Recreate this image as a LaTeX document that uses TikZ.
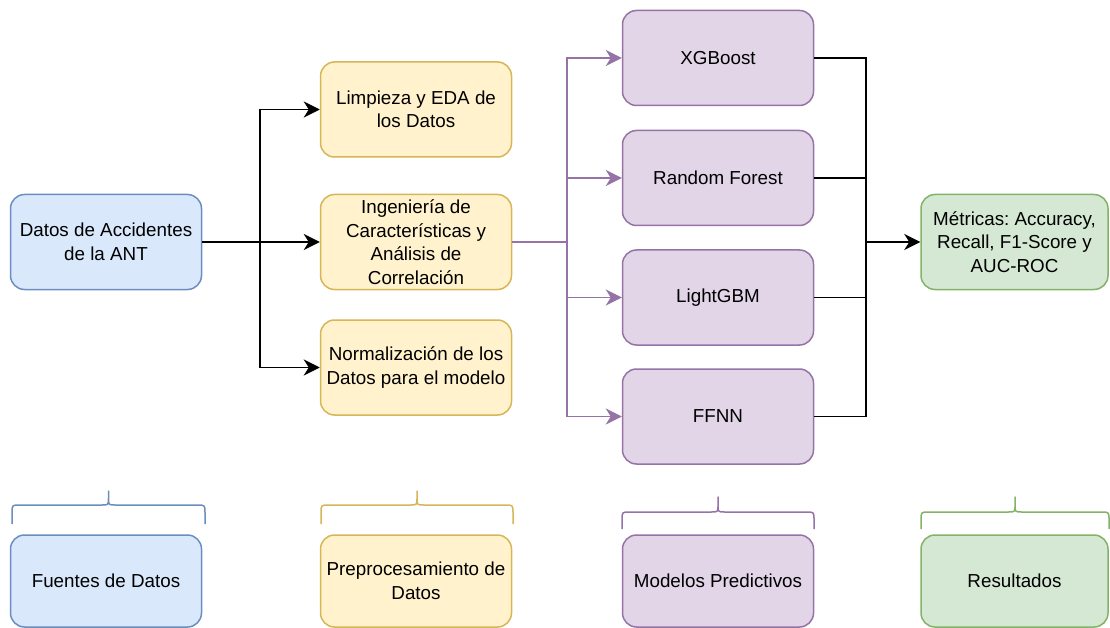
\documentclass[tikz,border=0pt]{standalone}
\usepackage{fontspec}
\setmainfont{Liberation Sans}
\usetikzlibrary{arrows.meta}
\definecolor{bfill}{HTML}{DAE8FC}\definecolor{bline}{HTML}{6C8EBF}
\definecolor{yfill}{HTML}{FFF2CC}\definecolor{yline}{HTML}{D6B656}
\definecolor{pfill}{HTML}{E1D5E7}\definecolor{pline}{HTML}{9673A6}
\definecolor{gfill}{HTML}{D5E8D4}\definecolor{gline}{HTML}{82B366}
\tikzset{
  box/.style={rounded corners=14pt, draw, line width=1.5pt, minimum width=191pt, minimum height=95pt,
    align=center, inner sep=0pt, font=\fontsize{18.8}{23.5}\selectfont\frenchspacing},
  bbox/.style={box, fill=bfill, draw=bline},
  ybox/.style={box, fill=yfill, draw=yline},
  pbox/.style={box, fill=pfill, draw=pline},
  gbox/.style={box, fill=gfill, draw=gline, minimum width=187pt},
  conn/.style={line width=1.5pt, black},
  pconn/.style={line width=1.5pt, pline},
  tip/.style={-{Stealth[length=16pt,width=16pt,inset=5pt]}},
  bracestyle/.style={line width=1.5pt, line join=round}
}
\newcommand\drawbrace[6]{% x0 x1 ytip yh yend color
  \pgfmathsetmacro\xm{(#1+#2)/2}
  \draw[bracestyle,#6] (#1,#5) -- (#1,#4+8) .. controls (#1,#4) .. (#1+8,#4) -- (\xm-7,#4)
     .. controls (\xm,#4) .. (\xm,#4-7) -- (\xm,#3) -- (\xm,#4-7) .. controls (\xm,#4) .. (\xm+7,#4)
     -- (#2-8,#4) .. controls (#2,#4) .. (#2,#4+8) -- (#2,#5);
}
\begin{document}
\frenchspacing
\begin{tikzpicture}[x=1pt,y=-1pt]
\useasboundingbox (0,0) rectangle (1110,628);
% column 1
\node[bbox] (datos) at (106,242) {Datos de Accidentes\\de la ANT};
% column 2
\node[ybox] (limp) at (416,109.5) {Limpieza y EDA de\\los Datos};
\node[ybox] (ing) at (416,242) {Ingeniería de\\Características y\\Análisis de\\Correlación};
\node[ybox] (norm) at (416,367.5) {Normalización de los\\Datos para el modelo};
% column 3
\node[pbox] (xgb) at (718,58) {XGBoost};
\node[pbox] (rf) at (718,178) {Random Forest};
\node[pbox] (lgbm) at (718,297.5) {LightGBM};
\node[pbox] (ffnn) at (718,416.5) {FFNN};
% column 4
\node[gbox] (met) at (1014.5,242) {Métricas: Accuracy,\\Recall, F1-Score y\\AUC-ROC};
% junctions
\coordinate (j1) at (260,242);
\coordinate (j2) at (567,242);
\coordinate (j3) at (866,242);
% connectors
\draw[conn] (datos.east) -- (j1);
\draw[conn,tip] (j1) |- (limp.west);
\draw[conn,tip] (j1) -- (ing.west);
\draw[conn,tip] (j1) |- (norm.west);
\draw[pconn] (ing.east) -- (j2);
\draw[pconn,tip] (j2) |- (xgb.west);
\draw[pconn,tip] (j2) |- (rf.west);
\draw[pconn,tip] (j2) |- (lgbm.west);
\draw[pconn,tip] (j2) |- (ffnn.west);
\draw[conn] (xgb.east) -| (j3);
\draw[conn] (rf.east) -| (j3);
\draw[conn] (lgbm.east) -| (j3);
\draw[conn] (ffnn.east) -| (j3);
\draw[conn,tip] (j3) -- (met.west);
% braces
\drawbrace{12}{205}{491}{505}{524}{bline}
\drawbrace{321}{513}{491}{505}{524}{yline}
\drawbrace{622}{814}{497}{512}{529}{pline}
\drawbrace{921}{1109}{497}{512}{529}{gline}
% bottom labels
\node[bbox, minimum height=92pt] (fuentes) at (106,581) {Fuentes de Datos};
\node[ybox, minimum height=92pt] (prep) at (416,581) {Preprocesamiento de\\Datos};
\node[pbox, minimum height=92pt] (mod) at (718,581) {Modelos Predictivos};
\node[gbox, minimum height=92pt] (res) at (1014.5,581) {Resultados};
\end{tikzpicture}
\end{document}
